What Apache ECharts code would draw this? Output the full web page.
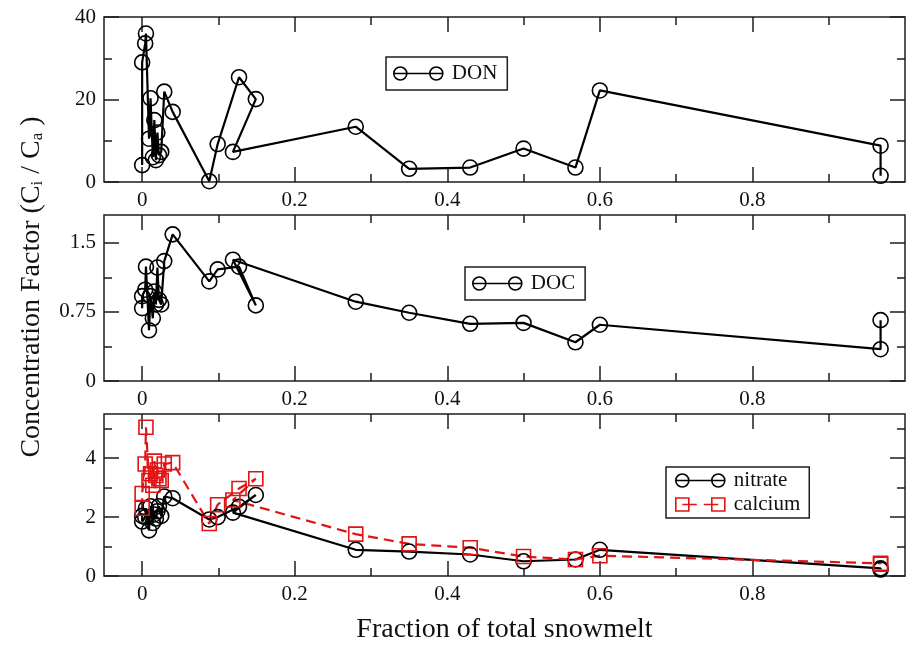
<!DOCTYPE html>
<html>
<head>
<meta charset="utf-8">
<title>Concentration factor vs fraction of total snowmelt</title>
<script src="https://cdn.jsdelivr.net/npm/echarts@6/dist/echarts.min.js"></script>
<style>
  html, body { margin: 0; padding: 0; background: #fff; }
  #chart { width: 907px; height: 645px; }
</style>
</head>
<body>
<div id="chart"></div>
<script>
// Fraction of total snowmelt at each sample (shared by all four solutes)
const melt = [0, 0, 0.004, 0.005, 0.009, 0.011, 0.014, 0.016, 0.018, 0.020, 0.022, 0.025, 0.029, 0.040,
              0.088, 0.099, 0.127, 0.149, 0.119, 0.280, 0.350, 0.430, 0.500, 0.568, 0.600, 0.968, 0.968];

// Concentration factors (Ci / Ca)
const don = [4.1, 29.0, 33.6, 36.0, 10.5, 20.3, 6.0, 15.0, 5.3, 12.0, 6.5, 7.3, 21.9, 17.0,
             0.2, 9.2, 25.4, 20.1, 7.3, 13.4, 3.2, 3.5, 8.1, 3.5, 22.2, 8.8, 1.5];
const doc = [0.79, 0.92, 0.99, 1.24, 0.55, 0.92, 0.68, 0.97, 0.83, 1.23, 0.88, 0.83, 1.30, 1.59,
             1.08, 1.21, 1.24, 0.82, 1.315, 0.86, 0.74, 0.62, 0.63, 0.42, 0.61, 0.345, 0.66];
const nitrate = [2.04, 1.85, 2.0, 2.3, 1.55, 2.37, 1.8, 2.09, 1.95, 2.2, 2.37, 2.04, 2.7, 2.64,
                 1.92, 2.0, 2.35, 2.75, 2.15, 0.89, 0.83, 0.73, 0.5, 0.56, 0.89, 0.26, 0.22];
const calcium = [2.3, 2.8, 3.8, 5.05, 3.24, 3.47, 3.08, 3.9, 3.41, 3.6, 3.3, 3.24, 3.8, 3.85,
                 1.78, 2.42, 2.97, 3.3, 2.58, 1.42, 1.09, 0.96, 0.66, 0.56, 0.69, 0.43, 0.40];

// Tick positions and labels
const xMajorTicks = [0, 0.2, 0.4, 0.6, 0.8];
const xMinorTicks = [0.1, 0.3, 0.5, 0.7, 0.9];
const yPanels = [
  { min: 0, max: 40,  major: [0, 20, 40],      minor: [10, 30] },
  { min: 0, max: 1.8, major: [0, 0.75, 1.5],   minor: [0.375, 1.125] },
  { min: 0, max: 5.5, major: [0, 2, 4],        minor: [1, 3, 5] }
];

const FONT = 'Liberation Serif';
const INK = '#111';
const FRAME = '#1e1e1e';
const RED = '#e01414';

const grids = [
  { left: 104, right: 2, top: 17,  height: 165 },
  { left: 104, right: 2, top: 215, height: 166 },
  { left: 104, right: 2, top: 414, height: 166 }
].map(g => Object.assign({ show: true, borderColor: FRAME, borderWidth: 1.5, backgroundColor: 'transparent' }, g));

function tickAxis(kind, gridIndex, position, min, max, ticks, len, labels, extra) {
  return Object.assign({
    type: 'value', gridIndex, position, min, max,
    axisLine: { show: false, onZero: false },
    splitLine: { show: false },
    axisTick: { show: true, inside: true, length: len, customValues: ticks,
                lineStyle: { color: FRAME, width: 1.5 } },
    axisLabel: labels
      ? { show: true, customValues: labels, fontFamily: FONT, fontSize: 21, color: INK, margin: kind === 'x' ? 8 : 8 }
      : { show: false }
  }, extra || {});
}

const xAxis = [];
const yAxis = [];
for (let g = 0; g < 3; g++) {
  const xExtra = g === 2 ? {
    name: 'Fraction of total snowmelt', nameLocation: 'middle', nameGap: 40,
    nameTextStyle: { fontFamily: FONT, fontSize: 28, color: INK }
  } : {};
  xAxis.push(tickAxis('x', g, 'bottom', -0.05, 1.0, xMajorTicks, 15, xMajorTicks, xExtra));
  xAxis.push(tickAxis('x', g, 'bottom', -0.05, 1.0, xMinorTicks, 8, null));
  xAxis.push(tickAxis('x', g, 'top', -0.05, 1.0, xMajorTicks, 15, null));
  xAxis.push(tickAxis('x', g, 'top', -0.05, 1.0, xMinorTicks, 8, null));

  const p = yPanels[g];
  yAxis.push(tickAxis('y', g, 'left', p.min, p.max, p.major, 15, p.major));
  yAxis.push(tickAxis('y', g, 'left', p.min, p.max, p.minor, 8, null));
  yAxis.push(tickAxis('y', g, 'right', p.min, p.max, p.major, 15, null));
  yAxis.push(tickAxis('y', g, 'right', p.min, p.max, p.minor, 8, null));
}

function pairs(ys) { return melt.map((x, i) => [x, ys[i]]); }

function blackSeries(name, ys, g) {
  return {
    name, type: 'line', xAxisIndex: 4 * g, yAxisIndex: 4 * g, data: pairs(ys),
    symbol: 'circle', symbolSize: 15, animation: false,
    lineStyle: { color: '#000', width: 2.2 },
    itemStyle: { color: 'rgba(0,0,0,0)', borderColor: '#000', borderWidth: 1.6 },
    emphasis: { disabled: true }
  };
}

const series = [
  blackSeries('DON', don, 0),
  blackSeries('DOC', doc, 1),
  blackSeries('nitrate', nitrate, 2),
  {
    name: 'calcium', type: 'line', xAxisIndex: 8, yAxisIndex: 8, data: pairs(calcium),
    symbol: 'rect', symbolSize: 14, animation: false,
    lineStyle: { color: RED, width: 2.2, type: [10, 6] },
    itemStyle: { color: 'rgba(0,0,0,0)', borderColor: RED, borderWidth: 1.6 },
    emphasis: { disabled: true }
  }
];

// Legend glyphs: two symbols joined by a line segment
const ringPair = 'path://M0,6.5A6.5,6.5,0,1,1,13,6.5A6.5,6.5,0,1,1,0,6.5ZM0,6.5L49,6.5M36,6.5A6.5,6.5,0,1,1,49,6.5A6.5,6.5,0,1,1,36,6.5Z';
const boxPair = 'path://M0,0H13V13H0ZM36,0H49V13H36ZM6.5,6.5H21M28,6.5H42.5';

function legendBox(items, left, top, padding) {
  return {
    data: items, left, top, orient: 'vertical', selectedMode: false,
    itemWidth: 49, itemHeight: 13, itemGap: 3, padding,
    borderColor: FRAME, borderWidth: 1.5, backgroundColor: '#fff',
    textStyle: { fontFamily: FONT, fontSize: 21, color: INK, padding: [0, 0, 0, 4] }
  };
}
const blackIcon = { color: 'rgba(0,0,0,0)', borderColor: '#000', borderWidth: 1.6 };
const redIcon = { color: 'rgba(0,0,0,0)', borderColor: RED, borderWidth: 1.6 };

const option = {
  backgroundColor: '#fff',
  animation: false,
  grid: grids,
  xAxis, yAxis, series,
  legend: [
    legendBox([{ name: 'DON', icon: ringPair, itemStyle: blackIcon }], 386, 57, [6, 10, 6, 7]),
    legendBox([{ name: 'DOC', icon: ringPair, itemStyle: blackIcon }], 465, 267, [6, 10, 6, 7]),
    legendBox([
      { name: 'nitrate', icon: ringPair, itemStyle: blackIcon },
      { name: 'calcium', icon: boxPair, itemStyle: redIcon }
    ], 666, 467, [3, 9, 3, 9])
  ],
  graphic: [{
    type: 'text', x: 32, y: 287, rotation: Math.PI / 2,
    style: {
      text: 'Concentration Factor (C{sub|i} / C{sub|a} )',
      fontFamily: FONT, fontSize: 28, fill: INK, align: 'center', verticalAlign: 'middle',
      rich: { sub: { fontFamily: FONT, fontSize: 17, fill: INK, verticalAlign: 'bottom', padding: [4, 0, 0, 0] } }
    }
  }]
};

const chart = echarts.init(document.getElementById('chart'), null, { renderer: 'canvas' });
chart.setOption(option);
</script>
</body>
</html>
